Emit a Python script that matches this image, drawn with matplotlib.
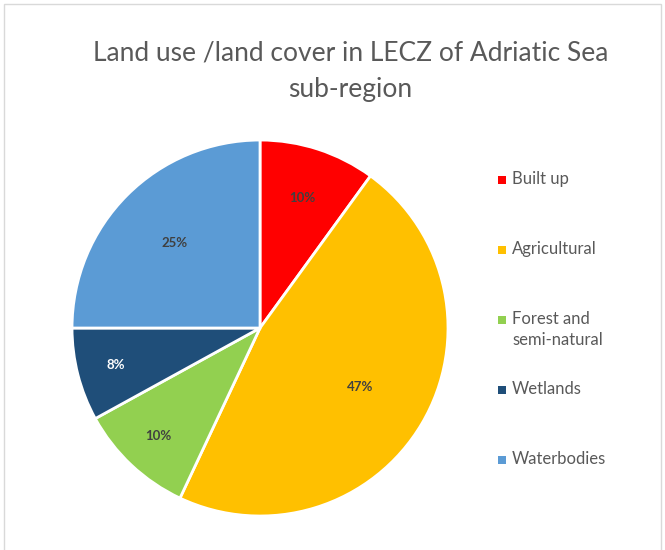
import numpy as np
import matplotlib
matplotlib.use("Agg")
import matplotlib.pyplot as plt
from matplotlib.patches import Rectangle

# data
categories = ["Built up", "Agricultural", "Forest and\nsemi-natural", "Wetlands", "Waterbodies"]
shares = [10, 47, 10, 8, 25]
colors = ["#FF0000", "#FFC000", "#92D050", "#1F4E79", "#5B9BD5"]
label_colors = ["#404040", "#404040", "#404040", "#FFFFFF", "#404040"]
label_dist = [0.73, 0.62, 0.79, 0.79, 0.64]

plt.rcParams['font.family'] = ['Lato', 'DejaVu Sans']

W, H = 665, 550
fig = plt.figure(figsize=(W / 100, H / 100), dpi=100)

# light border round the chart area
fig.patches.append(Rectangle((4 / W, -0.01), 657 / W, 546 / H + 0.01,
                             transform=fig.transFigure, fill=False,
                             edgecolor="#D9D9D9", linewidth=1))

ax = fig.add_axes([0.1083, 0.0618, 0.5654, 0.6836])
wedges, texts, pct = ax.pie(shares, colors=colors, startangle=90, counterclock=False,
                            autopct="%d%%", radius=1,
                            wedgeprops=dict(edgecolor="white", linewidth=2))
for w, t, d, c in zip(wedges, pct, label_dist, label_colors):
    ang = np.deg2rad((w.theta1 + w.theta2) / 2)
    t.set_position((d * np.cos(ang), d * np.sin(ang)))
    t.set_color(c)
    t.set_fontsize(9.5)
    t.set_fontweight("bold")
ax.set_xlim(-1, 1)
ax.set_ylim(-1, 1)
ax.set_aspect("equal")
ax.axis("off")

fig.text(0.527, 1 - 71 / H, "Land use /land cover in LECZ of Adriatic Sea\nsub-region",
         ha="center", va="center", fontsize=19, color="#595959", linespacing=1.55)

# legend, evenly spaced like the original
for i, (lab, col) in enumerate(zip(categories, colors)):
    yc = 180 + 70 * i
    fig.patches.append(Rectangle((498 / W, 1 - (yc + 4) / H), 8 / W, 8 / H,
                                 transform=fig.transFigure, facecolor=col,
                                 edgecolor="none"))
    fig.text(512 / W, 1 - (yc - 9) / H, lab, ha="left", va="top",
             fontsize=12, color="#595959", linespacing=1.4)

fig.savefig("out.png", dpi=100)
